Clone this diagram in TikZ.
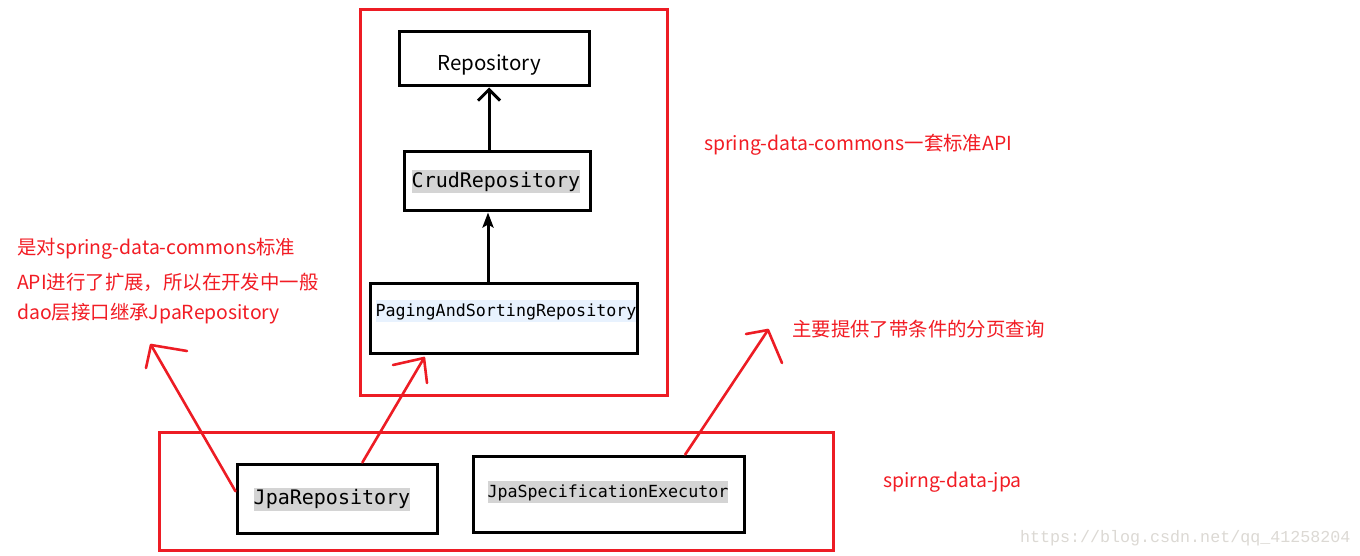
\documentclass[tikz,border=0pt]{standalone}
\usepackage{fontspec}
\setmainfont{Noto Sans CJK SC}
\newfontfamily\codefont{DejaVu Sans Mono}
\newfontfamily\wmfont{Liberation Mono}
\usetikzlibrary{arrows.meta,calc}
\definecolor{pred}{HTML}{ED1C24}
\definecolor{tred}{HTML}{F21C24}
\definecolor{hlgray}{HTML}{D4D4D4}
\definecolor{hlblue}{HTML}{E8F2FE}
\definecolor{wmgray}{HTML}{DCD9D4}
\tikzset{
  redframe/.style={draw=pred, line width=3pt},
  bbox/.style={draw=black, line width=3pt, rectangle, inner sep=0pt},
  codehl/.style={font=\codefont\fontsize{20}{24}\selectfont, inner xsep=0pt, inner ysep=0pt, minimum height=23pt, text depth=5pt, text height=16pt},
  codesm/.style={font=\codefont\fontsize{16.67}{20}\selectfont, inner xsep=0pt, inner ysep=0pt, minimum height=22pt, text depth=5pt, text height=15pt},
  redtxt/.style={text=tred, font=\fontsize{19.4}{23}\selectfont, anchor=west, inner sep=0pt},
  redarrow/.style={draw=pred, line width=2.6pt, line cap=round, line join=round},
}
\begin{document}
\begin{tikzpicture}[x=1pt,y=-1pt]
\useasboundingbox (0,0) rectangle (1360,556);
\fill[white] (0,0) rectangle (1360,556);

% frames
\draw[redframe] (360,10) rectangle (667,395);
\draw[redframe] (159,432) rectangle (833,550);

% boxes
\node[bbox, minimum width=190pt, minimum height=54pt] (repo) at (494,59) {};
\node[font=\fontsize{20.5}{24}\selectfont, inner sep=0pt] (repot) at (489,65) {Repository};

\node[bbox, minimum width=186pt, minimum height=59pt] (crud) at (497,181.5) {};
\node[codehl, fill=hlgray] (crudt) at (496,182) {CrudRepository};

\node[bbox, minimum width=267pt, minimum height=70pt] (page) at (503.5,318) {};
\node[codesm, fill=hlblue] (paget) at (506,311) {PagingAndSortingRepository};

\node[bbox, minimum width=200pt, minimum height=69pt] (jpa) at (337,498.5) {};
\node[codehl, fill=hlgray] (jpat) at (332,499) {JpaRepository};

\node[bbox, minimum width=271pt, minimum height=76pt] (spec) at (608.5,494) {};
\node[codesm, fill=hlgray] (spect) at (608,492) {JpaSpecificationExecutor};

% black arrows
\coordinate (ax) at (489,0);
\draw[line width=3pt, -{Straight Barb[length=11pt,width=22pt,line width=3pt]}] (crud.north -| ax) -- (repo.south -| ax);
\coordinate (bx) at (488,0);
\draw[line width=3pt, -{Stealth[length=15pt,width=11pt,inset=3pt]}] (page.north -| bx) -- (crud.south -| bx);

% red labels
\node[redtxt] (lbl1) at (704,145) {spring-data-commons一套标准API};
\node[redtxt] (lbl2a) at (17,249) {是对spring-data-commons标准};
\node[redtxt] (lbl2b) at (17,282) {API进行了扩展，所以在开发中一般};
\node[redtxt] (lbl2c) at (17,314) {dao层接口继承JpaRepository};
\node[redtxt] (lbl3) at (792,329) {主要提供了带条件的分页查询};
\node[redtxt] (lbl4) at (883,482) {spirng-data-jpa};

% watermark
\node[text=wmgray, font=\wmfont\fontsize{16.67}{20}\selectfont, anchor=west, inner sep=0pt] (wm) at (1020,538) {https://blog.csdn.net/qq\_41258204};

% red hand-drawn arrows
\coordinate (t1) at (151,345);
\coordinate (t1a) at (187,351);
\coordinate (t1b) at (146,368);
\draw[redarrow] ($(jpa.north west)!0.4!(jpa.south west)$) -- (t1);
\draw[redarrow] (t1a) -- (t1) -- (t1b);

\coordinate (t2) at (424,358);
\coordinate (t2a) at (393,365);
\coordinate (t2b) at (427,383);
\draw[redarrow] ($(jpa.north west)!0.625!(jpa.north east)$) -- (t2);
\draw[redarrow] (t2a) -- (t2) -- (t2b);

\coordinate (t3) at (768,330);
\coordinate (t3a) at (746,334);
\coordinate (t3b) at (782,363);
\draw[redarrow] ($(spec.north west)!0.78!(spec.north east)$) -- (t3);
\draw[redarrow] (t3a) -- (t3) -- (t3b);
\end{tikzpicture}
\end{document}
